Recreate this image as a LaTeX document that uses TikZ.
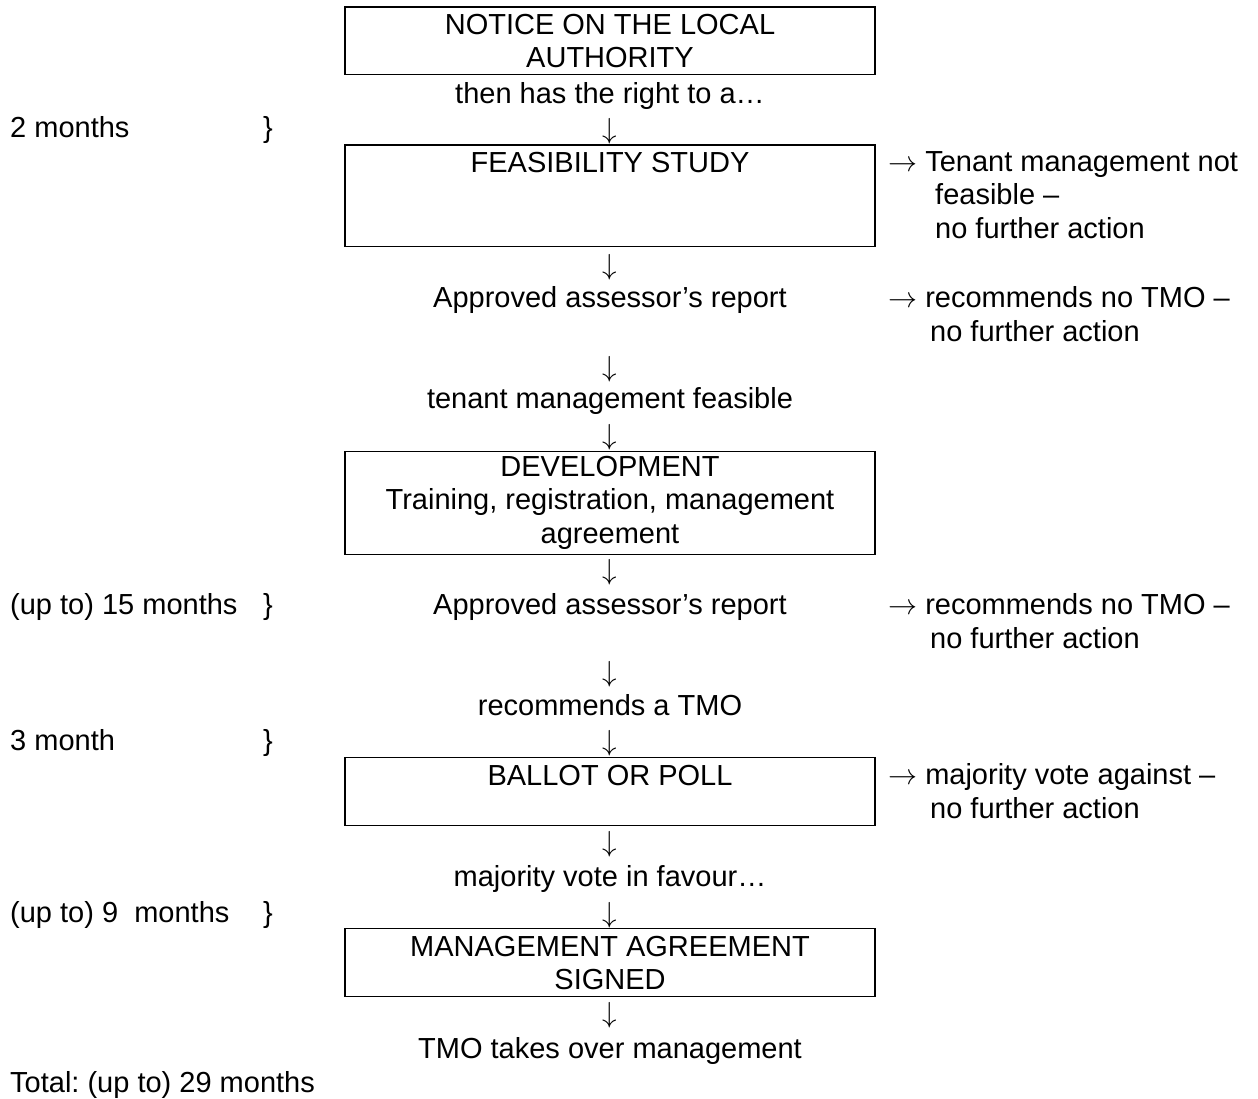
\RequirePackage{fix-cm}
\documentclass[tikz,border=0pt]{standalone}
\usepackage{fontspec}
\setmainfont{Liberation Sans}
\usepackage{tikz}
\usetikzlibrary{positioning}
\frenchspacing

\begin{document}
\begin{tikzpicture}[x=1pt, y=-1pt]
\tikzstyle{stagebox} = [rectangle, draw=black, line width=1.4pt, minimum width=530pt, inner sep=0pt, anchor=north, align=center, font=\fontsize{29}{33.3}\selectfont]
\tikzstyle{flowtext} = [inner sep=0pt, anchor=base, font=\fontsize{29}{33.3}\selectfont]
\tikzstyle{sidenote} = [flowtext, anchor=base west]
\tikzstyle{downarrow} = [inner sep=0pt, font=\fontsize{29}{33.3}\selectfont]

\useasboundingbox (0,0) rectangle (1258,1099);

% main column
\node (notice) [stagebox, minimum height=67.5pt] at (610,6.5) {NOTICE ON THE LOCAL\\AUTHORITY};
\node (right) [flowtext] at (610,103.5) {then has the right to a…};
\node (dn1) [downarrow] at (610,131.5) {$\downarrow$};
\node (feas) [stagebox, minimum height=101.5pt] at (610,144.5) {FEASIBILITY STUDY\\\mbox{}\\\mbox{}};
\node (dn2) [downarrow] at (610,267) {$\downarrow$};
\node (report1) [flowtext] at (610,308) {Approved assessor’s report};
\node (dn3) [downarrow] at (610,369.5) {$\downarrow$};
\node (feasible) [flowtext] at (610,408.5) {tenant management feasible};
\node (dn4) [downarrow] at (610,437.5) {$\downarrow$};
\node (devel) [stagebox, minimum height=103pt] at (610,450.5) {DEVELOPMENT\\Training, registration, management\\agreement};
\node (dn5) [downarrow] at (610,572) {$\downarrow$};
\node (report2) [flowtext] at (610,614.5) {Approved assessor’s report};
\node (dn6) [downarrow] at (610,674) {$\downarrow$};
\node (recommend) [flowtext] at (610,715.5) {recommends a TMO};
\node (dn7) [downarrow] at (610,743.5) {$\downarrow$};
\node (ballot) [stagebox, minimum height=68pt] at (610,757) {BALLOT OR POLL\\\mbox{}};
\node (dn8) [downarrow] at (610,844) {$\downarrow$};
\node (favour) [flowtext] at (610,886.5) {majority vote in favour…};
\node (dn9) [downarrow] at (610,915) {$\downarrow$};
\node (signed) [stagebox, minimum height=68pt] at (610,928) {MANAGEMENT AGREEMENT\\SIGNED};
\node (dn10) [downarrow] at (610,1015) {$\downarrow$};
\node (takeover) [flowtext] at (610,1058.5) {TMO takes over management};

% time periods
\node (months2) [sidenote] at (10,138) {2 months};
\node (brace2) [flowtext] at (268,138) {\}};
\node (months15) [sidenote] at (10,614.5) {(up to) 15 months};
\node (brace15) [flowtext] at (268,614.5) {\}};
\node (months3) [sidenote] at (10,750) {3 month};
\node (brace3) [flowtext] at (268,750) {\}};
\node (months9) [sidenote] at (10,922) {(up to) 9~ months};
\node (brace9) [flowtext] at (268,922) {\}};
\node (total) [sidenote] at (10,1092) {Total: (up to) 29 months};

% exits
\node (nofeas1) [sidenote] at (888,171.5) {$\rightarrow$ Tenant management not};
\node (nofeas2) [sidenote] at (935,205) {feasible –};
\node (nofeas3) [sidenote] at (935,238.5) {no further action};
\node (notmo1) [sidenote] at (888,308) {$\rightarrow$ recommends no TMO –};
\node (notmo2) [sidenote] at (930,341.5) {no further action};
\node (notmo3) [sidenote] at (888,614.5) {$\rightarrow$ recommends no TMO –};
\node (notmo4) [sidenote] at (930,648) {no further action};
\node (against1) [sidenote] at (888,784.5) {$\rightarrow$ majority vote against –};
\node (against2) [sidenote] at (930,818) {no further action};

\end{tikzpicture}
\end{document}
